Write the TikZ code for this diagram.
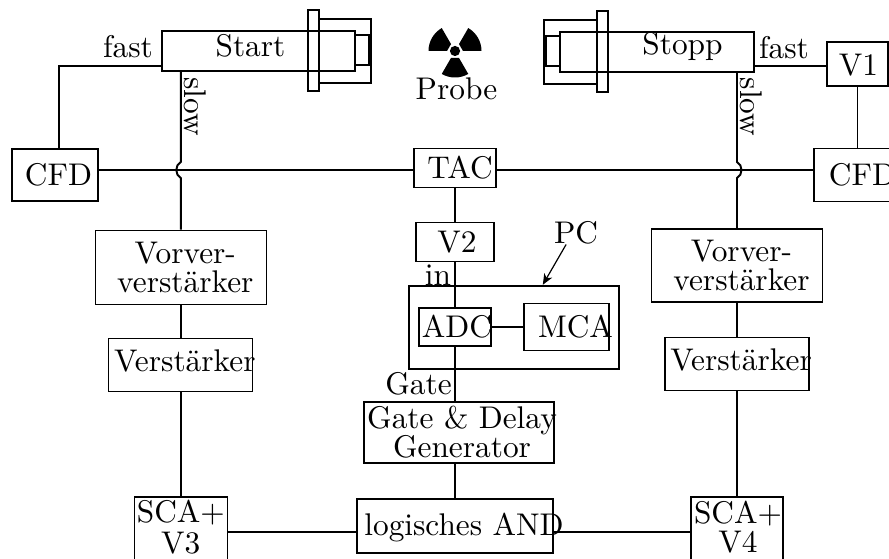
\documentclass[tikz,border=0pt]{standalone}
\usepackage{fontspec}
\usepackage{tikz}
\usetikzlibrary{arrows.meta,positioning}

\begin{document}
\begin{tikzpicture}[x=1pt/3, y=-1pt/3, >={Stealth[length=3.6pt,width=3pt,inset=1pt]},
  txt/.style={font=\fontsize{10.45}{9.67}\selectfont, align=center, inner sep=0pt},
  box/.style n args={2}{draw, line width=0.45pt, inner sep=0pt,
    minimum width={#1pt/3}, minimum height={#2pt/3}},
  tx/.style n args={3}{label={[txt, xshift={#1pt/3}, yshift={#2pt/3}]center:#3}},
  wire/.style={line width=0.65pt},
  thin wire/.style={line width=0.5pt},
  arr/.style={->, line width=0.4pt}]
  \useasboundingbox (0,0) rectangle (889,559);
  % crossing points and free ends
  \coordinate (hz) at (0,170);
  \coordinate (hopl) at (180.8,162);
  \coordinate (hopb) at (180.8,178);
  \coordinate (hopr) at (737,162);
  \coordinate (hopc) at (737,178);
  \coordinate (fastl) at (59,66);
  \coordinate (fastr) at (800,66);
  % detectors
  \node[box={193}{40}, tx={-8}{5}{Start}] (tubel) at (258.5,51) {};
  \node[box={52}{64}] (brkl) at (345,51) {};
  \node[box={11}{81}] (flal) at (313.5,50.5) {};
  \node[box={14}{30}] (pml) at (362,50) {};
  \node[box={194}{40}, tx={25.5}{5}{Stopp}] (tuber) at (657,52) {};
  \node[box={53}{64}] (brkr) at (570.5,52) {};
  \node[box={11}{81}] (flar) at (602.5,51.5) {};
  \node[box={14}{30}] (pmr) at (553,51) {};
  % source
  \node[circle, fill, inner sep=0pt, minimum size=3.4pt] (dot) at (455,51) {};
  \begin{scope}[shift={(dot.center)}]
    \fill (60:8) -- (60:26.5) arc[start angle=60, end angle=120, radius=26.5] -- (120:8) -- cycle;
    \fill (180:8) -- (180:26.5) arc[start angle=180, end angle=240, radius=26.5] -- (240:8) -- cycle;
    \fill (300:8) -- (300:26.5) arc[start angle=300, end angle=360, radius=26.5] -- (360:8) -- cycle;
  \end{scope}
  \node[txt] (probe) at (456.5,89) {Probe};
  % centre column
  \node[box={82}{39}, tx={5}{0}{TAC}] (tac) at (455,168) {};
  \node[box={78}{39}, tx={2}{0}{V2}, below=11.3pt of tac] (vz) {};
  \node[box={72}{38}, tx={2}{0}{ADC}] (adc) at (455,327) {};
  \node[box={85}{47}, tx={9}{0}{MCA}] (mca) at (566.5,327) {};
  \node[box={210}{83}, line width=0.8pt] (pc) at (514,327.5) {};
  \node[box={190}{61}, tx={3}{0}{Gate \& Delay\\Generator}] (gd) at (459,432.5) {};
  \node[box={196}{54}, tx={9}{-2}{logisches AND}] (and) at (455,526) {};
  % left column
  \node[box={86}{52}, tx={3.5}{0}{CFD}] (cfdl) at (55,175) {};
  \node[box={171}{74}, tx={4.5}{0}{Vorver-\\verstärker}, below=17.17pt of hopb] (vvl) {};
  \node[box={144}{53}, tx={4}{4}{Verstärker}, below=11pt of vvl] (vl) {};
  \node[box={93}{70}, tx={0}{5}{SCA+\\[0.6pt]V3}, below=34.67pt of vl] (scal) {};
  % right column
  \node[box={86}{53}, tx={5.5}{0}{CFD}] (cfdr) at (857,175) {};
  \node[box={61}{44}, tx={1}{-1.5}{V1}] (vo) at (857.5,64) {};
  \node[box={171}{73}, tx={4.5}{0}{Vorver-\\verstärker}, below=16.83pt of hopc] (vvr) {};
  \node[box={144}{53}, tx={4}{4}{Verstärker}, below=11.33pt of vvr] (vr) {};
  \node[box={92}{70}, tx={1}{5}{SCA+\\V4}, below=35pt of vr] (scar) {};
  % texts
  \node[txt] (fastlt) at (128,47) {fast};
  \node[txt] (fastrt) at (784,48) {fast};
  \node[txt, rotate=-90] (slowl) at (195,106.5) {slow};
  \node[txt, rotate=-90] (slowr) at (751,107) {slow};
  \node[txt] (int) at (438,275) {in};
  \node[txt] (gatet) at (418.5,384) {Gate};
  \node[txt] (pct) at (576,232.5) {PC};
  % connectors
  \draw[wire] (hz -| cfdl.east) -- (hz -| tac.west);
  \draw[wire] (hz -| tac.east) -- (hz -| cfdr.west);
  \draw[wire] (hopl |- tubel.south) -- (hopl) .. controls +(-6,3) and +(-6,-3) .. (hopb) -- (vvl.north);
  \draw[wire] (hopr |- tuber.south) -- (hopr) .. controls +(6,3) and +(6,-3) .. (hopc) -- (vvr.north);
  \draw[wire] (vvl) -- (vl);
  \draw[wire] (vl) -- (scal);
  \draw[wire] (vvr) -- (vr);
  \draw[wire] (vr) -- (scar);
  \draw[thin wire] (tubel.west |- fastl) -- (fastl) -- (fastl |- cfdl.north);
  \draw[thin wire] (tuber.east |- fastr) -- (fastr -| vo.west);
  \draw[thin wire] (vo.south) -- (vo.south |- cfdr.north);
  \draw[wire] (tac) -- (vz);
  \draw[wire] (vz) -- (adc);
  \draw[wire] (adc) -- (mca);
  \draw[wire] (adc.south) -- (adc.south |- gd.north);
  \draw[wire] (and.north) -- (and.north |- gd.south);
  \draw[wire] (scal.east) -- (scal.east -| and.west);
  \draw[wire] (scar.west) -- (scar.west -| and.east);
  \draw[arr] ([xshift=-3.3pt]pct.south) -- ([xshift=9.6pt]pc.north);
\end{tikzpicture}
\end{document}
